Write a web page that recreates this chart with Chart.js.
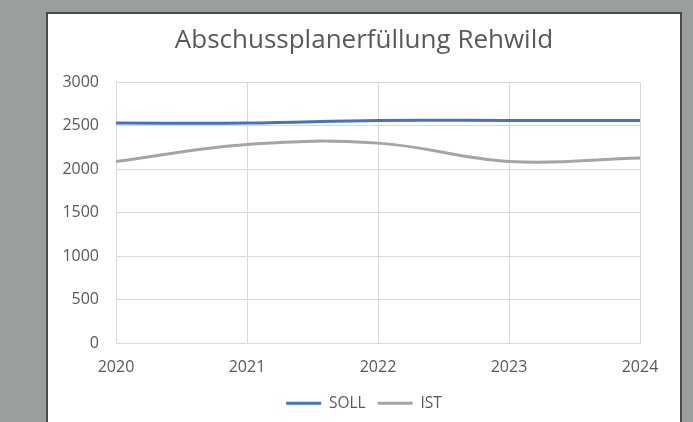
<!DOCTYPE html>
<html>
<head>
<meta charset="utf-8">
<script src="https://cdn.jsdelivr.net/npm/chart.js@4"></script>
<style>
  body { margin: 0; background: #9b9e9e; width: 693px; height: 422px; overflow: hidden; }
  #panel {
    position: absolute; left: 46px; top: 12px; width: 632px; height: 420px;
    background: #ffffff; border: 2px solid #4a4a4a;
  }
  #wrap { position: absolute; left: 0; top: 0; width: 632px; height: 408px; }
</style>
</head>
<body>
<div id="panel"><div id="wrap"><canvas id="grafico"></canvas></div></div>
<script>
// Daten
const jahre = ['2020', '2021', '2022', '2023', '2024'];
const soll = [2530, 2530, 2560, 2560, 2560];
const ist = [2090, 2285, 2300, 2090, 2130];
const yTicks = [0, 500, 1000, 1500, 2000, 2500, 3000];

const schrift = '"Open Sans", "Noto Sans", sans-serif';
const textFarbe = '#595959';

// Titel und Legende über die ganze Breite zentrieren (nicht nur über den Bereich ohne rechten Rand)
const mitteZentrieren = {
    id: 'mitteZentrieren',
    afterLayout: function (chart) {
        [chart.titleBlock, chart.legend].forEach(function (box) {
            if (box) {
                box.left = 0;
                box.right = chart.width;
                box.width = chart.width;
            }
        });
    }
};

document.addEventListener('DOMContentLoaded', function () {
    const ctx = document.getElementById('grafico').getContext('2d');
    new Chart(ctx, {
        type: 'line',
        data: {
            labels: jahre,
            datasets: [{
                label: 'SOLL',
                data: soll,
                borderColor: '#4472c4',
                backgroundColor: '#4472c4',
                borderWidth: 3,
                pointRadius: 0,
                tension: 0.4
            }, {
                label: 'IST',
                data: ist,
                borderColor: '#a5a5a5',
                backgroundColor: '#a5a5a5',
                borderWidth: 3,
                pointRadius: 0,
                tension: 0.4
            }]
        },
        plugins: [mitteZentrieren],
        options: {
            responsive: true,
            maintainAspectRatio: false,
            animation: false,
            layout: { padding: { left: 0, right: 40, top: 0, bottom: 1 } },
            plugins: {
                title: {
                    display: true,
                    text: 'Abschussplanerfüllung Rehwild',
                    color: textFarbe,
                    font: { family: schrift, size: 26, weight: 'normal' },
                    padding: { top: 11, bottom: 26 }
                },
                legend: {
                    position: 'bottom',
                    labels: {
                        color: textFarbe,
                        font: { family: schrift, size: 15.5 },
                        boxWidth: 35,
                        boxHeight: 3,
                        padding: 12,
                        generateLabels: function (chart) {
                            return chart.data.datasets.map(function (ds, i) {
                                return {
                                    text: ds.label,
                                    fillStyle: ds.borderColor,
                                    strokeStyle: ds.borderColor,
                                    lineWidth: 0,
                                    fontColor: textFarbe,
                                    datasetIndex: i
                                };
                            });
                        }
                    }
                },
                tooltip: { enabled: false }
            },
            scales: {
                x: {
                    offset: false,
                    afterFit: function (axis) { axis.height -= 9; },
                    grid: { color: '#d9d9d9', drawTicks: false },
                    border: { color: '#d9d9d9' },
                    ticks: {
                        color: textFarbe,
                        font: { family: schrift, size: 16 },
                        padding: 15,
                        maxRotation: 0
                    }
                },
                y: {
                    min: 0,
                    max: 3000,
                    afterBuildTicks: function (axis) {
                        axis.ticks = yTicks.map(function (v) { return { value: v }; });
                    },
                    afterFit: function (axis) { axis.width = 68; },
                    grid: { color: '#d9d9d9', drawTicks: false },
                    border: { color: '#d9d9d9' },
                    ticks: {
                        color: textFarbe,
                        font: { family: schrift, size: 16 },
                        padding: 17,
                        callback: function (v) { return String(v); }
                    }
                }
            }
        }
    });
});
</script>
</body>
</html>
